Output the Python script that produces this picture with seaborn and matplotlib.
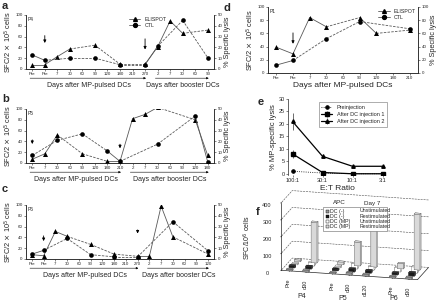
import numpy as np
import pandas as pd
import matplotlib
matplotlib.use("Agg")
import matplotlib.pyplot as plt
import matplotlib.patches as mpatches
import seaborn as sns

sns.set_style("ticks")
plt.rcParams['font.family'] = ['Liberation Sans', 'DejaVu Sans']
plt.rcParams['axes.linewidth'] = 0.5

nan = np.nan

# ---- panel a (P4) ----
a_ticks = ['Pre', 'Pre', '7', '30', '60', '90', '120', '180', '210', '270', '2', '7', '30', '60', '90']
a_elispot = [8, 8, 23, 37, nan, 44, nan, 9, nan, 9, 41, 89, 66, nan, 72]
a_ctl = [13, 8, nan, 10, nan, 10, nan, 4, nan, 4, 21, nan, 45, nan, 10.5]
a_split = 10

# ---- panel b (P5) ----
b_ticks = ['Pre', '7', '30', '60', '90', '120', '180', '210', '2', '7', '30', '60', '90', '120', '180']
b_elispot = [7, 17, 52, nan, 17, nan, 3, 3, 82, 90, 103, nan, nan, 80, 14]
b_ctl = [7, nan, 21, nan, 27, nan, 11, 1.5, nan, nan, 17.5, nan, nan, 43.5, 1]
b_split = 8

# ---- panel c (P6) ----
c_ticks = ['Pre', 'Pre', '7', '30', '60', '90', '120', '180', '210', '270', '2', '7', '30', '60', '90', '120']
c_elispot = [8, 6, 51, 42, nan, 27, nan, 9, nan, 5, 5, 98, 41, nan, nan, 9]
c_ctl = [4.5, 8, nan, 19, nan, 4, nan, 2, nan, 2, nan, nan, 34.5, nan, nan, 7.5]
c_split = 10

# ---- panel d (P1) ----
d_ticks = ['Pre', 'Pre', '7', '30', '60', '90', '120', '180', '210']
d_elispot = [39, 29, 84, 70, nan, 84, 60, nan, 65]
d_ctl = [12, 19, nan, 52, nan, 78, nan, nan, 67]

# ---- panel e ----
e_ratio = ['100:1', '30:1', '10:1', '3:1']
e_pre = [1, 0.3, 0, 0]
e_inj1 = [8, 0.5, 0, 0]
e_inj1_err = [1.5, 0.5, 0, 0]
e_inj2 = [21, 7, 3, 3]
e_inj2_err = [3.5, 0.8, 0.3, 0.2]

# ---- panel f ----
f_groups = ['Pre', 'd30', 'Pre', 'd30', 'd120', 'Pre', 'd30']
f_patients = ['P4', 'P5', 'P6']
f_patient_of = [0, 0, 1, 1, 1, 2, 2]
f_apc = ['DC (-)', 'DC (-)', 'DC (MP)', 'DC (MP)']
f_stim = ['Unstimulated', 'Restimulated', 'Unstimulated', 'Restimulated']
f_vals = [
    [8, 10, 6, 12, 10, 8, 10],
    [12, 15, 10, 18, 15, 12, 20],
    [6, 20, 8, 30, 20, 25, 35],
    [10, 240, 15, 140, 240, 30, 330],
]

fig = plt.figure(figsize=(4.38, 3.04), dpi=100)
W, H = 438.0, 304.0


def box(x0, y0, x1, y1):
    return [x0 / W, 1 - y1 / H, (x1 - x0) / W, (y1 - y0) / H]


tick_fs = 3.2
lab_fs = 5.3


def draw_series(ax, vals, marker, ms):
    x = np.arange(len(vals))
    v = np.array(vals, dtype=float)
    idx = np.where(~np.isnan(v))[0]
    for i, j in zip(idx[:-1], idx[1:]):
        ls = '-' if j - i == 1 else (0, (3, 1.5))
        ax.plot([x[i], x[j]], [v[i], v[j]], color='0.35', lw=0.6, ls=ls)
    df = pd.DataFrame({'x': x[idx], 'y': v[idx]})
    sns.scatterplot(data=df, x='x', y='y', ax=ax, marker=marker, color='k',
                    s=ms, edgecolor='k', linewidth=0, zorder=3, legend=False)


def time_panel(rect, ticks, eli, ctl, split, tag, arrows, rmax, rstep, legend=False,
               booster=True, pad=0.5):
    ax = fig.add_axes(rect)
    ax2 = ax.twinx()
    n = len(ticks)
    draw_series(ax, eli, '^', 13)
    draw_series(ax2, ctl, 'o', 11)
    ax.set_xlim(-pad, n - 1 + pad)
    ax.set_ylim(0, 100)
    ax.set_yticks(range(0, 101, 20))
    ax2.set_ylim(0, rmax)
    ax2.set_yticks(range(0, rmax + 1, rstep))
    ax.set_xticks(range(n))
    ax.set_xticklabels(ticks)
    for a_ in (ax, ax2):
        a_.tick_params(labelsize=tick_fs, length=1.5, width=0.4, pad=1)
        a_.set_xlabel('')
        a_.set_ylabel('')
        a_.spines['top'].set_visible(False)
    ax.set_ylabel(r'SFC/2 $\times$ 10$^5$ cells', fontsize=lab_fs, labelpad=1)
    ax2.set_ylabel('% Specific lysis', fontsize=lab_fs, labelpad=1)
    ax.text(0.01, 0.97, tag, transform=ax.transAxes, fontsize=3.5, va='top')
    for xi, y0, y1 in arrows:
        ax.annotate('', xy=(xi, y1), xytext=(xi, y0),
                    arrowprops=dict(arrowstyle='-|>', lw=0.6, color='k',
                                    mutation_scale=4))
    if legend:
        ax.plot([], [], color='0.35', lw=0.6, marker='^', ms=2.8, mfc='k', mec='k', label='ELISPOT')
        ax.plot([], [], color='0.35', lw=0.6, marker='o', ms=2.8, mfc='k', mec='k', label='CTL')
        ax.legend(fontsize=3.8, frameon=False, loc='upper right',
                  bbox_to_anchor=legend, handlelength=2.2, labelspacing=0.2,
                  borderaxespad=0)
    trans = ax.get_xaxis_transform()
    if booster:
        segs = [(0, split - 1, 'Days after MP-pulsed DCs'), (split, n - 1, 'Days after booster DCs')]
        for s0, s1, txt in segs:
            ax.annotate('', xy=(s1 + 0.3, -0.17), xytext=(s0 - 0.4, -0.17), xycoords=trans,
                        textcoords=trans, annotation_clip=False,
                        arrowprops=dict(arrowstyle='-|>', lw=0.4, color='k', mutation_scale=3))
            ax.text((s0 + s1) / 2, -0.24, txt, transform=trans, ha='center', va='top',
                    fontsize=5)
    else:
        ax.text((n - 1) / 2, -0.13, 'Days after MP-pulsed DCs', transform=trans,
                ha='center', va='top', fontsize=6)
    return ax


time_panel(box(26, 15, 214, 69), a_ticks, a_elispot, a_ctl, a_split, 'P4',
           [(1, 67, 43), (9, 61, 31)], 50, 10, legend=(0.76, 1.0))
time_panel(box(26, 109, 214, 163), b_ticks, b_elispot, b_ctl, b_split, 'P5',
           [(0, 48, 30), (7, 40, 22)], 50, 10)
time_panel(box(26, 205, 214, 259), c_ticks, c_elispot, c_ctl, c_split, 'P6',
           [(1, 48, 28), (9, 59, 42)], 50, 10)
time_panel(box(268, 7, 418, 73), d_ticks, d_elispot, d_ctl, 0, 'P1',
           [(1, 65, 40)], 100, 20, legend=(1.0, 1.0), booster=False)

# ---- panel e ----
axe = fig.add_axes(box(288, 99, 387, 175))
xe = np.arange(len(e_ratio))
sns.lineplot(x=xe, y=e_pre, ax=axe, color='k', lw=0.6, ls=':', marker='o', ms=2.5,
             mec='k', label='Preinjection')
axe.errorbar(xe, e_inj1, yerr=e_inj1_err, color='k', lw=0.9, marker='s', ms=2.5,
             elinewidth=0.4, capsize=0, label='After DC injection 1')
axe.errorbar(xe, e_inj2, yerr=e_inj2_err, color='k', lw=0.9, marker='^', ms=2.5,
             elinewidth=0.4, capsize=0, label='After DC injection 2')
axe.set_xlim(-0.15, 3.15)
axe.set_ylim(-0.5, 30)
axe.set_yticks(range(0, 31, 5))
axe.set_xticks(xe)
axe.set_xticklabels(e_ratio)
axe.tick_params(labelsize=4, length=1.5, width=0.4, pad=1)
for s in ('top', 'right', 'bottom'):
    axe.spines[s].set_visible(False)
axe.set_xlabel('E:T Ratio', fontsize=6, labelpad=1)
axe.set_ylabel('% MP-specific lysis', fontsize=5.5, labelpad=1)
leg = axe.legend(fontsize=4, loc='upper right', bbox_to_anchor=(1.03, 1.0), frameon=True,
                 fancybox=False, edgecolor='0.3', handlelength=2, labelspacing=0.4,
                 borderpad=0.5)
leg.get_frame().set_linewidth(0.4)

# ---- panel f (3D bars) ----
axf = fig.add_axes(box(262, 168, 444, 306), projection='3d', proj_type='ortho')
axf.patch.set_alpha(0)
f_colors = ['0.6', '0.1', 'white', '0.85']
ng = len(f_groups)
xs = np.arange(ng) + np.array(f_patient_of) * 0.6
for k in range(len(f_stim)):
    axf.bar3d(xs, np.full(ng, k * 0.9), np.zeros(ng), 0.35, 0.35, f_vals[k],
              color=f_colors[k], edgecolor='0.3', linewidth=0.2, shade=False)
axf.set_box_aspect((4, 1.3, 2.0), zoom=1.15)
axf.set_zlim(0, 400)
axf.set_zticks(range(0, 401, 100))
axf.set_xticks(xs + 0.2)
axf.set_xticklabels(f_groups, rotation=90)
axf.set_yticks([])
axf.set_ylim(0, 3.6)
axf.set_xlim(-0.3, xs[-1] + 0.7)
axf.view_init(elev=16, azim=-76)
axf.zaxis.set_ticks_position('lower')
axf.zaxis.set_label_position('lower')
axf.tick_params(labelsize=4, pad=-3)
axf.set_zlabel('SFC/10$^6$ cells', fontsize=5, labelpad=-9)
for pane in (axf.xaxis, axf.yaxis, axf.zaxis):
    pane.set_pane_color((1, 1, 1, 0))
axf.grid(True)
axf.xaxis._axinfo['grid'].update(color=(1, 1, 1, 0))
axf.yaxis._axinfo['grid'].update(color=(1, 1, 1, 0))
axf.zaxis._axinfo['grid'].update(color='0.3', linewidth=0.4, linestyle='--')

# legend box for f
fig.patches.append(mpatches.Rectangle((323 / W, 1 - 231 / H), 64 / W, 24 / H,
                                      transform=fig.transFigure, fill=True, fc='white',
                                      ec='0.4', lw=0.4, zorder=5))
fig.text(333 / W, 1 - 203 / H, 'APC', fontsize=4.5, va='center')
fig.text(364 / W, 1 - 203 / H, 'Day 7', fontsize=4.5, va='center')
for k in range(len(f_apc)):
    yk = 1 - (211 + 5.3 * k) / H
    fig.patches.append(mpatches.Rectangle((326 / W, yk - 1.5 / H), 3 / W, 3 / H,
                                          transform=fig.transFigure, fc=f_colors[k],
                                          ec='k', lw=0.3, zorder=6))
    fig.text(330 / W, yk, f_apc[k], fontsize=3.8, va='center', zorder=6)
    fig.text(360 / W, yk, f_stim[k], fontsize=3.8, va='center', zorder=6)
for name, (px, py) in zip(f_patients, [(302, 296), (343, 298), (394, 299)]):
    fig.text(px / W, 1 - py / H, name, fontsize=5, ha='center', va='center')

for (x, y, t) in [(2, 6, 'a'), (2, 99, 'b'), (2, 189, 'c'), (224, 8, 'd'),
                  (258, 102, 'e'), (256, 212, 'f')]:
    fig.text(x / W, 1 - y / H, t, fontsize=8, fontweight='bold', va='center')

fig.savefig('out.png', dpi=100)
